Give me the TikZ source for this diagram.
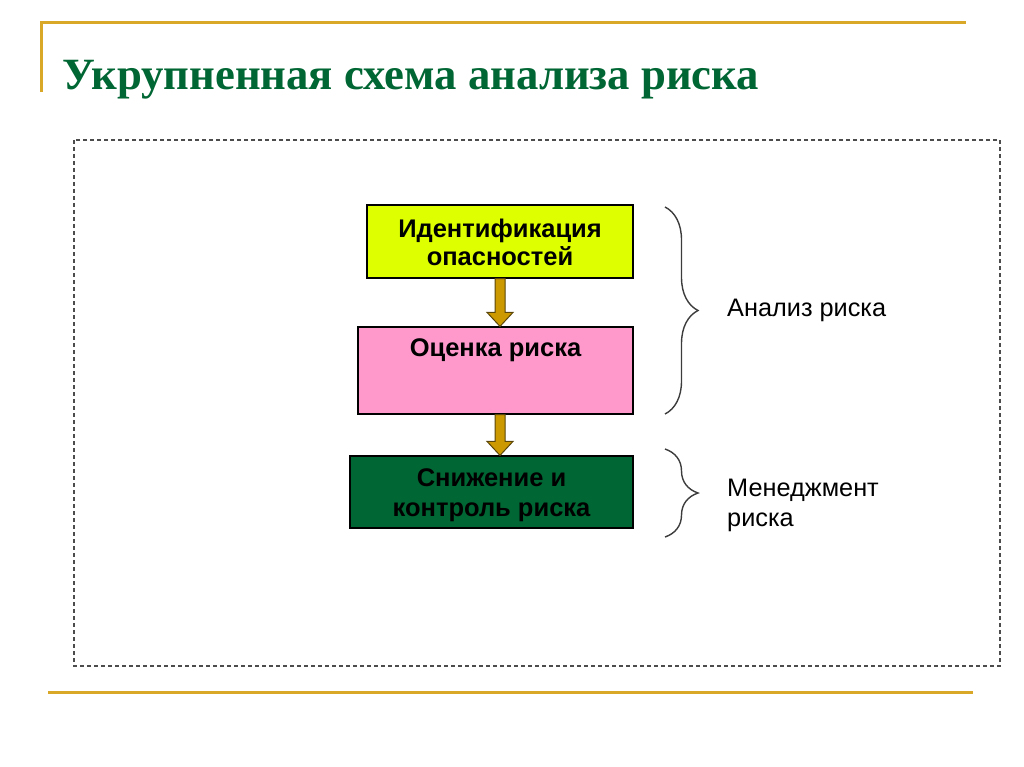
\documentclass[tikz,border=0pt]{standalone}
\usepackage{fontspec}
\setmainfont{Liberation Serif}
\newfontfamily\arialfont{Liberation Sans}
\usetikzlibrary{positioning,calc,decorations.pathreplacing}

\begin{document}
\begin{tikzpicture}[x=1pt, y=-1pt,
	box/.style={draw=black, line width=1.2pt, inner sep=0pt, align=center,
		font=\arialfont\bfseries\fontsize{25.5}{28}\selectfont},
	sidelabel/.style={anchor=west, align=left, inner sep=0pt,
		font=\arialfont\fontsize{25.3}{30}\selectfont},
	goldline/.style={draw=gold, line width=3pt},
	blockarrow/.style={fill=arrowgold, draw=arrowedge, line width=1pt},
	riskbrace/.style={draw=bracegray, line width=1.4pt, decorate,
		decoration={brace, amplitude=33pt}}]
	\definecolor{gold}{RGB}{218, 168, 40}
	\definecolor{titlegreen}{RGB}{0, 102, 51}
	\definecolor{lime}{RGB}{221, 255, 0}
	\definecolor{pink}{RGB}{255, 153, 204}
	\definecolor{darkgreen}{RGB}{0, 102, 51}
	\definecolor{arrowgold}{RGB}{204, 153, 0}
	\definecolor{arrowedge}{RGB}{90, 70, 10}
	\definecolor{bracegray}{RGB}{60, 60, 60}
	\useasboundingbox (0, 0) rectangle (1024, 767);

	% frame
	\draw[goldline] (41, 92) -- (41, 23) -- (966, 23);
	\draw[goldline] (48, 692) -- (973, 692);
	\draw[draw=black!70, line width=1.5pt, dash pattern=on 4pt off 3pt] (74, 140) rectangle (1000, 666);
	\node[anchor=base west, inner sep=0pt, text=titlegreen,
		font=\bfseries\fontsize{44.7}{54}\selectfont] (title) at (62, 90)
		{Укрупненная схема анализа риска};

	% boxes
	\node[box, fill=lime, minimum width=266pt, text height=60pt, text depth=13pt] (ident) at (500, 241.5)
		{Идентификация\\опасностей};
	\node[box, fill=pink, minimum width=275pt, text height=29.7pt, text depth=57.3pt] (ocenka) at (495.5, 370.5)
		{Оценка риска};
	\node[box, fill=darkgreen, minimum width=283pt, text height=60.7pt, text depth=11.3pt] (snizh) at (491.5, 492)
		{Снижение и\\[2.5pt]контроль риска};

	% arrows
	\foreach \from/\to in {ident/ocenka, ocenka/snizh}{
		\draw[blockarrow] ($(ident.south |- \from.south)+(-5, 0)$)
			-- ($(ident.south |- \to.north)+(-5, -14)$) -- ++(-8, 0)
			-- (ident.south |- \to.north)
			-- ($(ident.south |- \to.north)+(13, -14)$) -- ++(-8, 0)
			-- ($(ident.south |- \from.south)+(5, 0)$) -- cycle;
	}

	% braces
	\coordinate (b1top) at (665, 207);
	\coordinate (b1bot) at (665, 414);
	\coordinate (b2top) at (665, 449);
	\coordinate (b2bot) at (665, 537);
	\draw[riskbrace] (b1top) -- (b1bot);
	\draw[riskbrace] (b2top) -- (b2bot);
	\node[sidelabel] (analiz) at (727, 310) {Анализ риска};
	\node[sidelabel] (menedzh) at (727, 505) {Менеджмент\\риска};
\end{tikzpicture}
\end{document}
